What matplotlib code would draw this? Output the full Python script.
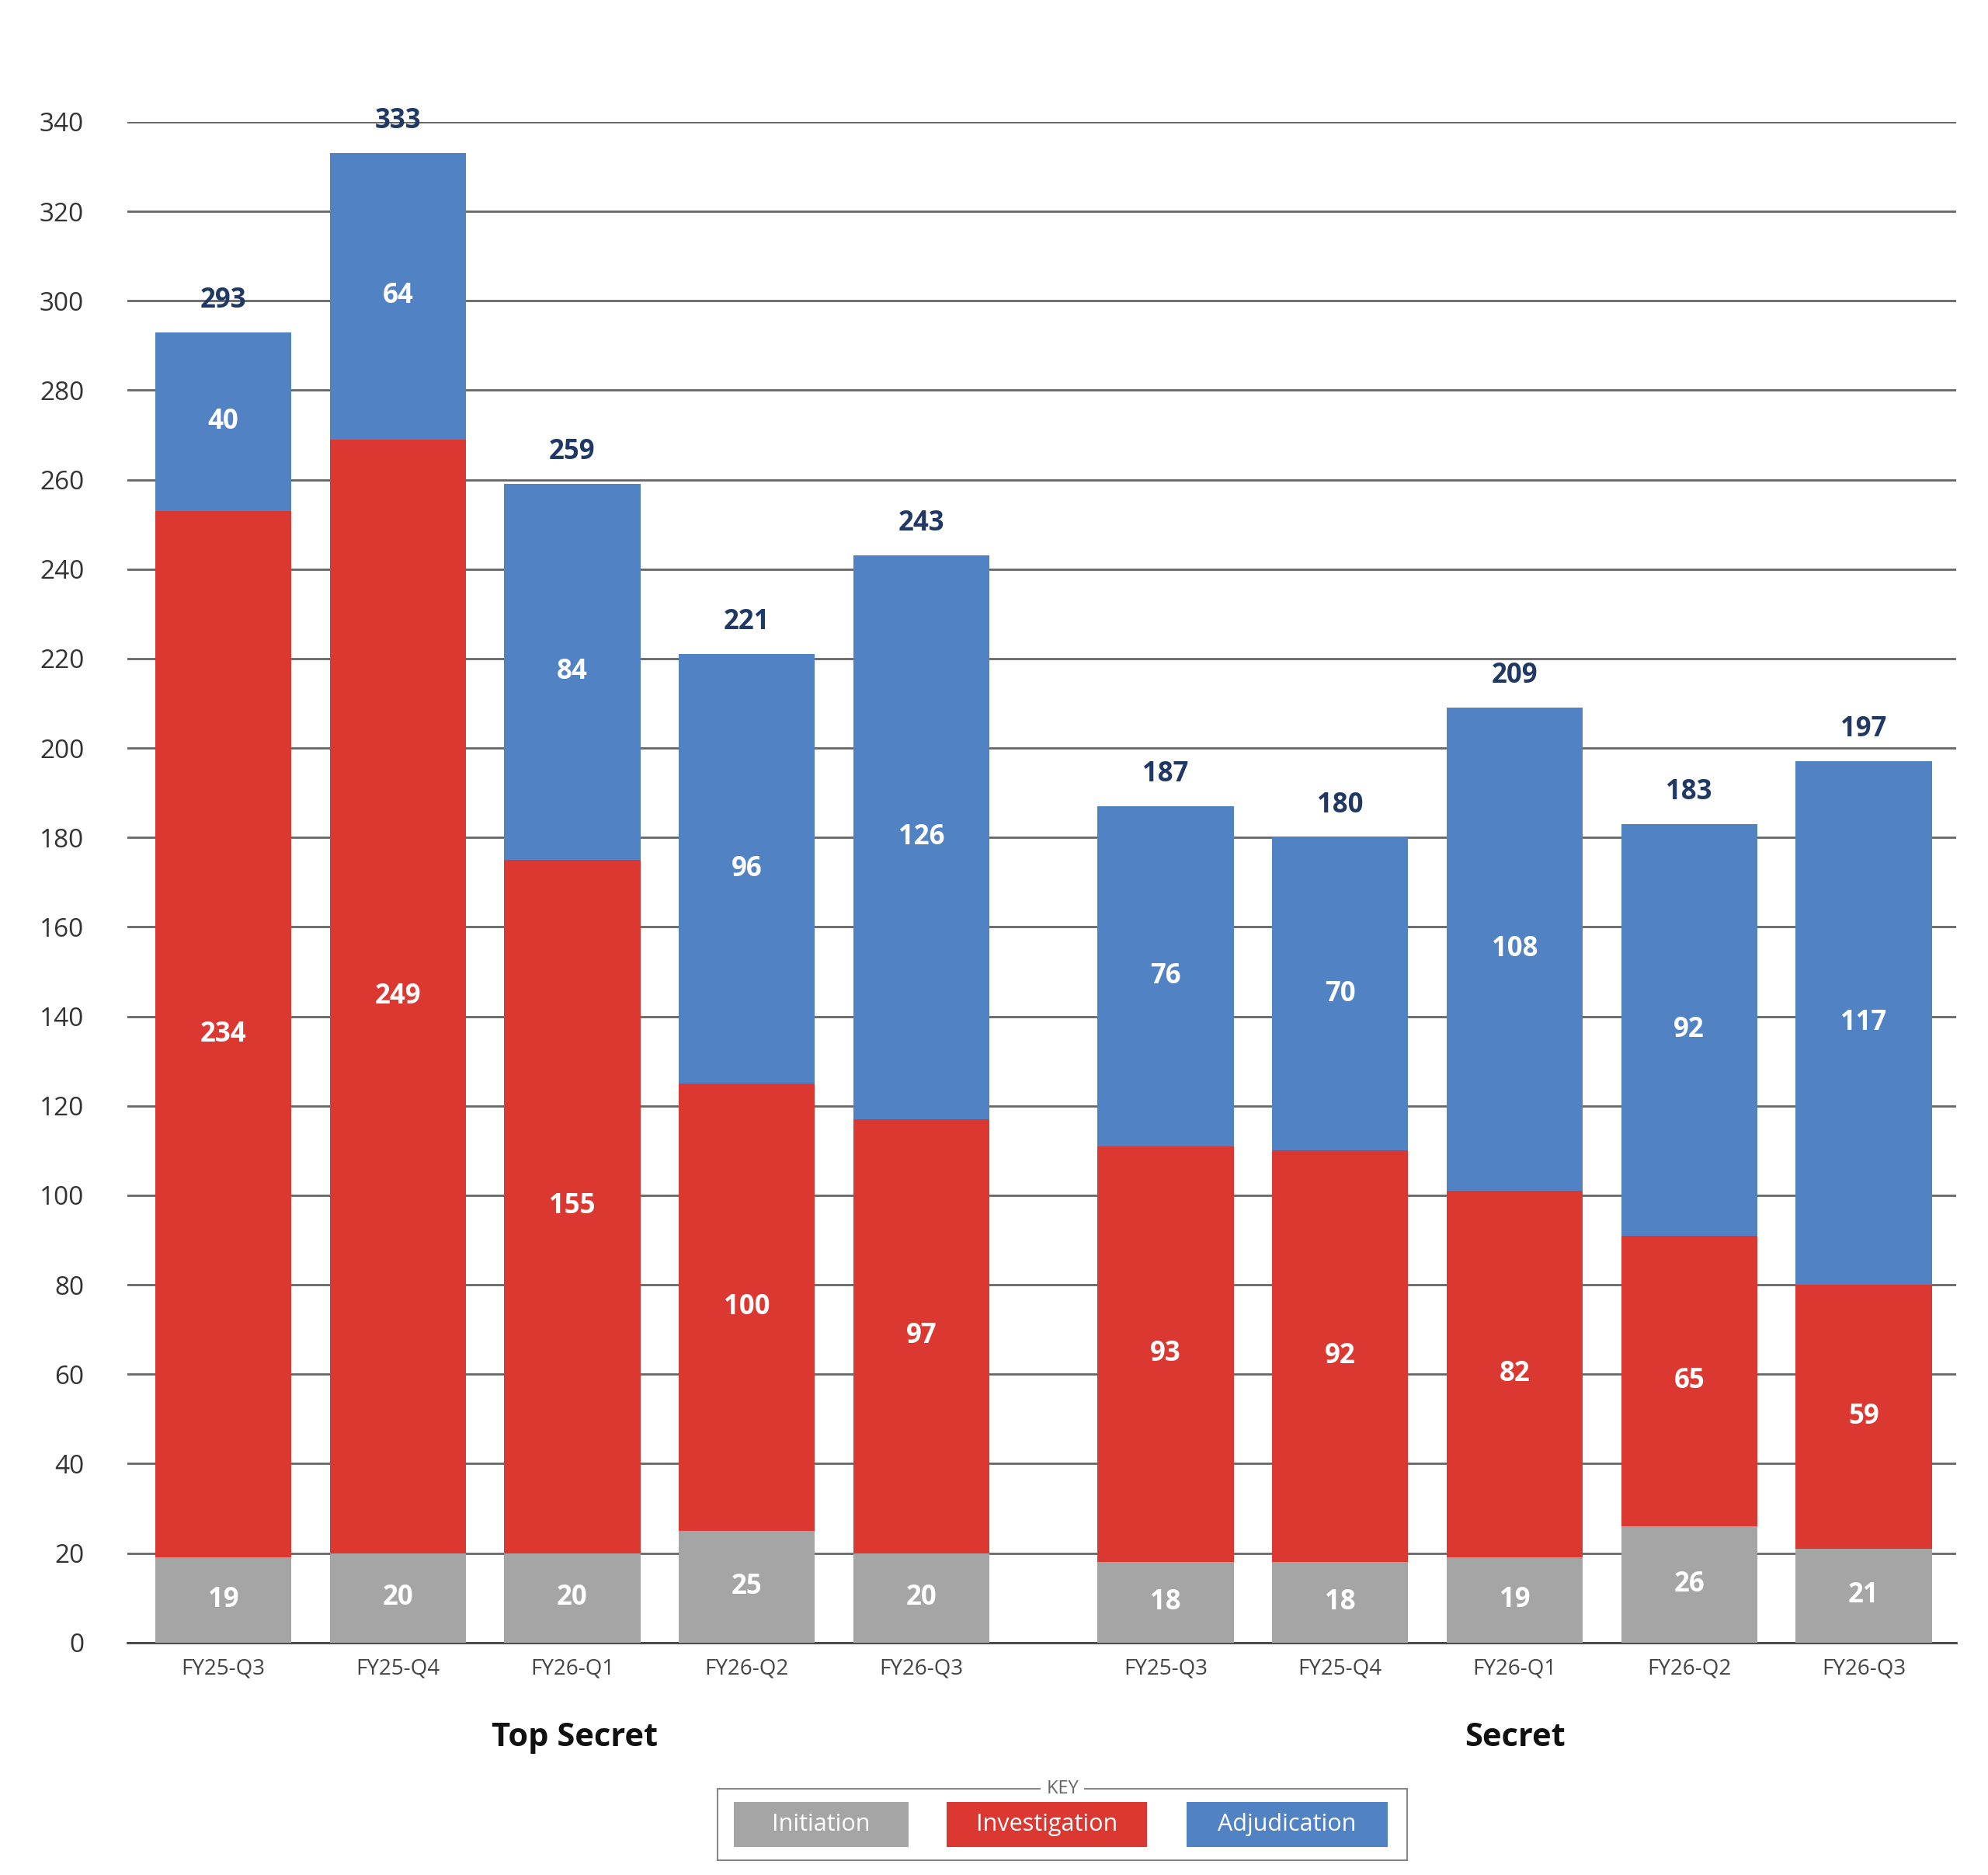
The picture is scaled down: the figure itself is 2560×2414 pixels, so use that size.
import matplotlib
matplotlib.use("Agg")
import matplotlib.pyplot as plt
from matplotlib.patches import Rectangle

plt.rcParams['font.family'] = ['Open Sans', 'DejaVu Sans']

quarters = ["FY25-Q3", "FY25-Q4", "FY26-Q1", "FY26-Q2", "FY26-Q3"]
groups = ["Top Secret", "Secret"]
initiation = [19, 20, 20, 25, 20, 18, 18, 19, 26, 21]
investigation = [234, 249, 155, 100, 97, 93, 92, 82, 65, 59]
adjudication = [40, 64, 84, 96, 126, 76, 70, 108, 92, 117]
totals = [293, 333, 259, 221, 243, 187, 180, 209, 183, 197]
yticks = list(range(0, 341, 20))

c_init, c_inv, c_adj = "#a5a5a5", "#db3832", "#5182c4"
navy = "#1f3864"

fig = plt.figure(figsize=(25.6, 24.14), dpi=100)
ax = fig.add_axes([0.064, 0.124, 0.92, 0.811])
x = [0, 1, 2, 3, 4, 5.4, 6.4, 7.4, 8.4, 9.4]
w = 0.78
for i, xi in enumerate(x):
    a, b, c = initiation[i], investigation[i], adjudication[i]
    ax.bar(xi, a, w, color=c_init, zorder=3)
    ax.bar(xi, b, w, bottom=a, color=c_inv, zorder=3)
    ax.bar(xi, c, w, bottom=a + b, color=c_adj, zorder=3)
    kw = dict(ha="center", va="center", color="white", fontsize=25, fontweight="bold", zorder=4)
    ax.text(xi, a / 2, str(a), **kw)
    ax.text(xi, a + b / 2, str(b), **kw)
    ax.text(xi, a + b + c / 2, str(c), **kw)
    ax.text(xi, a + b + c + 4, str(totals[i]), ha="center", va="bottom",
            color=navy, fontsize=25, fontweight="bold", zorder=4)

ax.set_ylim(0, 340)
ax.set_xlim(-0.55, 9.93)
ax.set_yticks(yticks)
ax.yaxis.grid(True, color="#666666", linewidth=2, zorder=0)
ax.set_xticks(x)
ax.set_xticklabels(quarters * 2, fontsize=20, color="#444444")
ax.tick_params(axis="y", labelsize=24, colors="#333333", length=0, pad=40)
ax.tick_params(axis="x", length=0, pad=14)
for s in ["top", "right", "left"]:
    ax.spines[s].set_visible(False)
ax.spines["bottom"].set_color("#444444")
ax.spines["bottom"].set_linewidth(2)

fig.text(0.289, 0.073, groups[0], ha="center", va="center", fontsize=30, fontweight="bold", color="#111111")
fig.text(0.762, 0.073, groups[1], ha="center", va="center", fontsize=30, fontweight="bold", color="#111111")

box = Rectangle((0.361, 0.008), 0.347, 0.038, transform=fig.transFigure, fill=False,
                edgecolor="#888888", linewidth=1.5)
fig.add_artist(box)
fig.text(0.5345, 0.046, " KEY ", ha="center", va="center", fontsize=17, color="#666666",
         bbox=dict(facecolor="white", edgecolor="none", pad=1))
for (lx, lw, col, lab) in [(0.369, 0.088, c_init, "Initiation"),
                           (0.476, 0.101, c_inv, "Investigation"),
                           (0.597, 0.101, c_adj, "Adjudication")]:
    fig.add_artist(Rectangle((lx, 0.015), lw, 0.024, transform=fig.transFigure,
                             facecolor=col, edgecolor="none"))
    fig.text(lx + lw / 2, 0.027, lab, ha="center", va="center", fontsize=22, color="white")

fig.savefig("out.png", dpi=100, facecolor="white")
